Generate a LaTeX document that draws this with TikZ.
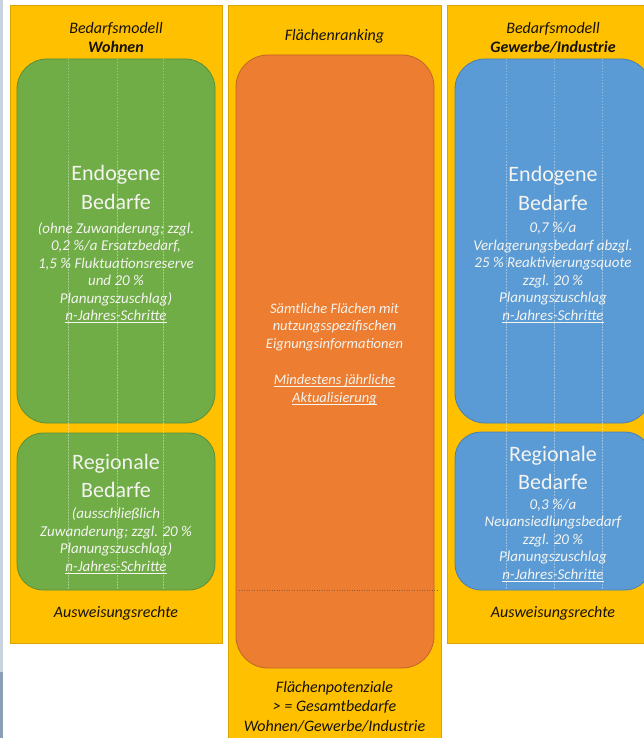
\documentclass[tikz,border=0pt]{standalone}
\usepackage{fontspec}
\setmainfont{Carlito}
\newcommand\myul[1]{\leavevmode\setbox0=\hbox{#1}\rlap{\rule[-2.5pt]{\wd0}{0.8pt}}\box0}
\definecolor{cyellow}{HTML}{FFC000}
\definecolor{cyellowd}{HTML}{D9A300}
\definecolor{cgreen}{HTML}{70AD47}
\definecolor{cgreend}{HTML}{5A8F38}
\definecolor{corange}{HTML}{ED7D31}
\definecolor{coranged}{HTML}{C0652A}
\definecolor{cblue}{HTML}{5B9BD5}
\definecolor{cblued}{HTML}{4A7FB0}
\definecolor{ctext}{HTML}{15120A}
\definecolor{cwhite}{HTML}{F4F4F0}
\definecolor{cedge}{HTML}{C9D3DF}
\definecolor{cedgeb}{HTML}{8C9DB5}
\definecolor{cdot}{HTML}{9A5A30}
\begin{document}
\begin{tikzpicture}[x=1pt,y=-1pt,
  colbox/.style={fill=cyellow, draw=cyellowd, line width=0.7pt},
  gbox/.style={fill=cgreen, draw=cgreend, line width=0.8pt},
  obox/.style={fill=corange, draw=coranged, line width=0.8pt},
  bbox/.style={fill=cblue, draw=cblued, line width=0.8pt},
  guide/.style={draw=white, opacity=0.38, dash pattern=on 1.5pt off 1.5pt, line width=0.5pt},
  bigtxt/.style={text=cwhite, font=\fontsize{22}{28.5}\selectfont, align=center, anchor=base, inner sep=0pt},
  smalltxt/.style={text=cwhite, font=\fontsize{15}{17.5}\selectfont\itshape, align=center, anchor=base, inner sep=0pt},
  otxt/.style={text=cwhite, font=\fontsize{14.5}{17.3}\selectfont\itshape, align=center, anchor=base, inner sep=0pt},
  titletxt/.style={text=ctext, font=\fontsize{16}{19.2}\selectfont\itshape, align=center, anchor=base, inner sep=0pt},
]
\useasboundingbox (0,0) rectangle (644,738);
\clip (0,0) rectangle (644,738);
\fill[white] (0,0) rectangle (644,738);
% left edge artefact
\fill[cedge] (0,0) rectangle (2.6,672);
\fill[cedgeb] (0,672) rectangle (2.6,738);

% columns
\draw[colbox] (10,5) rectangle (222,643);
\draw[colbox] (228,5) rectangle (441,745);
\draw[colbox] (447,5) rectangle (659,643);

% left boxes
\draw[gbox, rounded corners=30pt] (17,59) rectangle (215,423);
\draw[gbox, rounded corners=26pt] (17,433) rectangle (215,590);
\foreach \gx in {68,117,163} \draw[guide] (\gx,59) -- (\gx,590);

% middle box
\draw[obox, rounded corners=32pt] (236,55) rectangle (434,668);
\draw[cdot, line width=0.8pt, dash pattern=on 1pt off 1.5pt] (239,590) -- (437,590);

% right boxes
\draw[bbox, rounded corners=30pt] (455,59) rectangle (651,423);
\draw[bbox, rounded corners=26pt] (455,432) rectangle (651,590);
\foreach \gx in {506,554,602} \draw[guide] (\gx,59) -- (\gx,590);

% titles (anchor = baseline of last line)
\node[titletxt] (tl) at (116,52.5) {Bedarfsmodell\\\textbf{Wohnen}};
\node[titletxt] (tm) at (334.5,41) {Flächenranking};
\node[titletxt] (tr) at (553,52.5) {Bedarfsmodell\\\textbf{Gewerbe/Industrie}};

% left texts
\node[bigtxt] (le) at (116,209) {Endogene\\Bedarfe};
\node[smalltxt] (les) at (116,320.5) {(ohne Zuwanderung; zzgl.\\0,2 \%/a Ersatzbedarf,\\1,5 \% Fluktuationsreserve\\und 20 \%\\Planungszuschlag)\\\myul{n-Jahres-Schritte}};
\node[bigtxt] (lr) at (116,497.5) {Regionale\\Bedarfe};
\node[smalltxt] (lrs) at (116,571) {(ausschließlich\\Zuwanderung; zzgl. 20 \%\\Planungszuschlag)\\\myul{n-Jahres-Schritte}};
\node[titletxt] (la) at (116,617) {Ausweisungsrechte};

% middle texts
\node[otxt] (mt) at (334.5,348) {Sämtliche Flächen mit\\nutzungsspezifischen\\Eignungsinformationen};
\node[otxt] (mu) at (334.5,402) {\myul{Mindestens jährliche}\\\myul{Aktualisierung}};
\node[titletxt] (mb) at (334.5,731) {Flächenpotenziale\\> = Gesamtbedarfe\\Wohnen/Gewerbe/Industrie};

% right texts
\node[bigtxt] (re) at (553,210) {Endogene\\Bedarfe};
\node[smalltxt] (res) at (553,320) {0,7 \%/a\\Verlagerungsbedarf abzgl.\\25 \% Reaktivierungsquote\\zzgl. 20 \%\\Planungszuschlag\\\myul{n-Jahres-Schritte}};
\node[bigtxt] (rr) at (553,489.5) {Regionale\\Bedarfe};
\node[smalltxt] (rrs) at (553,579) {0,3 \%/a\\Neuansiedlungsbedarf\\zzgl. 20 \%\\Planungszuschlag\\\myul{n-Jahres-Schritte}};
\node[titletxt] (ra) at (553,617) {Ausweisungsrechte};
\end{tikzpicture}
\end{document}
